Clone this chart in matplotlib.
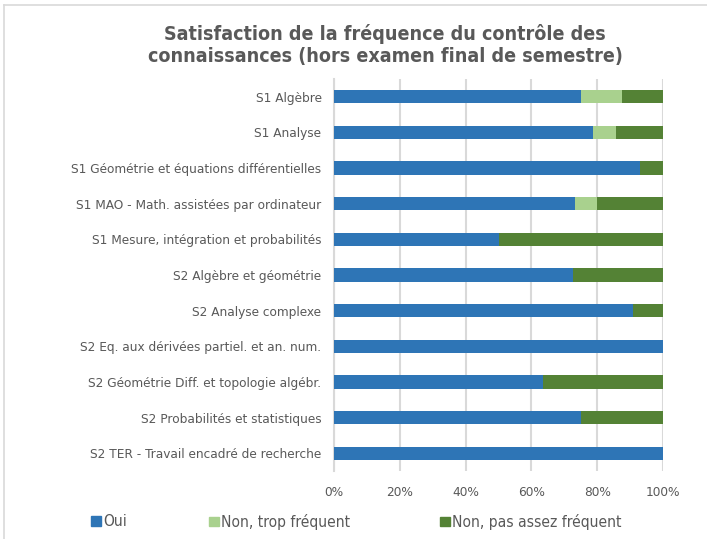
import matplotlib.pyplot as plt
from matplotlib.ticker import PercentFormatter
from matplotlib.patches import Patch

categories = [
    "S1 Algèbre",
    "S1 Analyse",
    "S1 Géométrie et équations différentielles",
    "S1 MAO - Math. assistées par ordinateur",
    "S1 Mesure, intégration et probabilités",
    "S2 Algèbre et géométrie",
    "S2 Analyse complexe",
    "S2 Eq. aux dérivées partiel. et an. num.",
    "S2 Géométrie Diff. et topologie algébr.",
    "S2 Probabilités et statistiques",
    "S2 TER - Travail encadré de recherche",
]
oui = [75.0, 78.6, 92.9, 73.3, 50.0, 72.7, 90.9, 100.0, 63.6, 75.0, 100.0]
trop = [12.5, 7.1, 0.0, 6.7, 0.0, 0.0, 0.0, 0.0, 0.0, 0.0, 0.0]
pas_assez = [12.5, 14.3, 7.1, 20.0, 50.0, 27.3, 9.1, 0.0, 36.4, 25.0, 0.0]

series_names = ["Oui", "Non, trop fréquent", "Non, pas assez fréquent"]
colors = ["#2E75B6", "#A9D18E", "#548235"]

plt.rcParams['font.family'] = ['DejaVu Sans']
plt.rcParams['font.stretch'] = 'condensed'
text_col = "#595959"

fig = plt.figure(figsize=(7.07, 5.39), dpi=100)
ax = fig.add_axes([334 / 707, 1 - 471 / 539, 329 / 707, 392 / 539])

y = list(range(len(categories)))
left = [0.0] * len(categories)
for vals, c in zip([oui, trop, pas_assez], colors):
    ax.barh(y, vals, left=left, height=0.37, color=c, zorder=3)
    left = [a + b for a, b in zip(left, vals)]

ax.set_ylim(len(categories) - 0.5, -0.5)
ax.set_xlim(0, 100)
ax.set_xticks(range(0, 101, 20))
ax.xaxis.set_major_formatter(PercentFormatter(decimals=0))
ax.set_yticks(y)
ax.set_yticklabels(categories)
ax.tick_params(axis='both', length=0, labelsize=9.7, colors=text_col)
ax.tick_params(axis='y', pad=9)
ax.tick_params(axis='x', pad=11)
ax.grid(axis='x', color="#D9D9D9", linewidth=1.5, zorder=0)
for s in ["top", "right", "bottom"]:
    ax.spines[s].set_visible(False)
ax.spines["left"].set_color("#D9D9D9")
ax.spines["left"].set_linewidth(1.5)

fig.text(385 / 707, 1 - 45 / 539, "Satisfaction de la fréquence du contrôle des\nconnaissances (hors examen final de semestre)",
         ha='center', va='center', fontsize=14.1, color=text_col, fontweight='bold', linespacing=1.2)

# legend entries placed individually like the original
leg_x = [94, 212, 443]
for name, c, xp in zip(series_names, colors, leg_x):
    fig.legend([Patch(color=c)], [name], loc='center left',
               bbox_to_anchor=(xp / 707 - 0.004, 1 - 522 / 539), frameon=False,
               fontsize=11.2, labelcolor=text_col, borderpad=0, borderaxespad=0,
               handlelength=0.6, handleheight=0.6, handletextpad=0.15)

# chart frame (top and left edges visible)
fig.add_artist(plt.Line2D([4 / 707, 1], [1 - 5 / 539, 1 - 5 / 539], transform=fig.transFigure,
                          color="#D9D9D9", linewidth=1.2))
fig.add_artist(plt.Line2D([4 / 707, 4 / 707], [0, 1 - 5 / 539], transform=fig.transFigure,
                          color="#D9D9D9", linewidth=1.2))

fig.savefig("out.png", dpi=100)
